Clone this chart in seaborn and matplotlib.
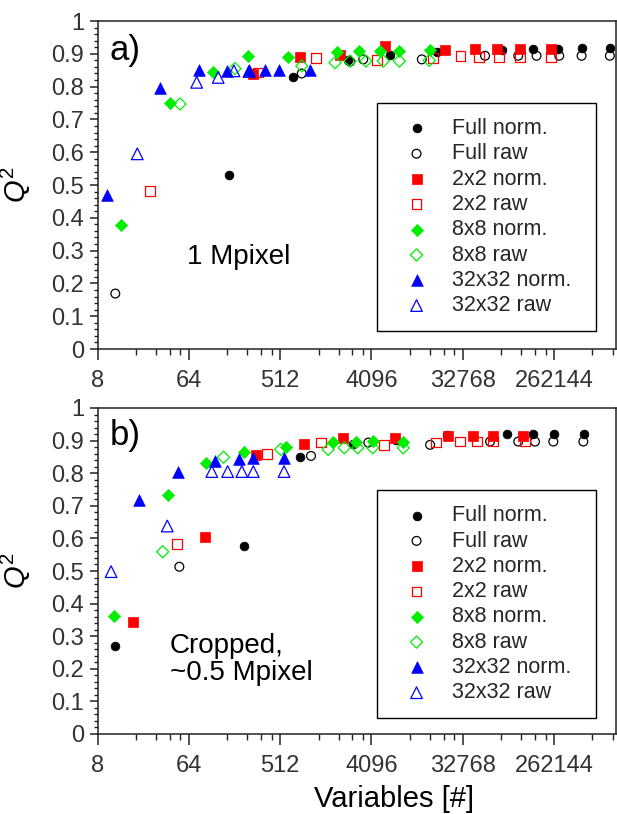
import matplotlib
matplotlib.use("Agg")
import matplotlib.pyplot as plt
import seaborn as sns
import pandas as pd
from matplotlib.ticker import FixedLocator, FixedFormatter, MultipleLocator, NullFormatter

# ---------------- data (panel a: 1 Mpixel) ----------------
a_full_norm_x = [160, 690, 2420, 6250, 18100, 79600, 163000, 288000, 491000, 935000]
a_full_norm_y = [0.532, 0.828, 0.880, 0.897, 0.907, 0.912, 0.914, 0.914, 0.919, 0.919]
a_full_raw_x = [12, 838, 2520, 3400, 12900, 54500, 116000, 176000, 295000, 491000, 935000]
a_full_raw_y = [0.169, 0.840, 0.876, 0.883, 0.883, 0.894, 0.894, 0.894, 0.894, 0.894, 0.894]
a_2x2_norm_x = [274, 806, 2000, 5590, 21900, 43300, 72100, 120000, 243000]
a_2x2_norm_y = [0.838, 0.891, 0.897, 0.924, 0.911, 0.914, 0.914, 0.914, 0.914]
a_2x2_raw_x = [26.4, 311, 1150, 4620, 16800, 31200, 47900, 75000, 120000, 243000]
a_2x2_raw_y = [0.481, 0.843, 0.886, 0.880, 0.888, 0.894, 0.891, 0.891, 0.891, 0.891]
a_8x8_norm_x = [13.7, 41.7, 112, 248, 617, 1880, 3110, 4980, 7730, 15600]
a_8x8_norm_y = [0.377, 0.749, 0.843, 0.894, 0.891, 0.906, 0.909, 0.909, 0.909, 0.911]
a_8x8_raw_x = [52.4, 183, 838, 1790, 2520, 3620, 5370, 7730, 15300]
a_8x8_raw_y = [0.747, 0.855, 0.863, 0.873, 0.878, 0.878, 0.878, 0.878, 0.880]
a_32_norm_x = [9.86, 33.2, 81.3, 154, 254, 363, 502, 1010]
a_32_norm_y = [0.468, 0.795, 0.850, 0.848, 0.851, 0.851, 0.851, 0.852]
a_32_raw_x = [19.8, 76.6, 125, 179, 252]
a_32_raw_y = [0.595, 0.813, 0.828, 0.848, 0.846]

# ---------------- data (panel b: cropped ~0.5 Mpixel) ----------------
b_full_norm_x = [11.9, 226, 806, 2710, 7170, 23000, 89300, 163000, 262000, 520000]
b_full_norm_y = [0.271, 0.578, 0.851, 0.891, 0.902, 0.917, 0.920, 0.920, 0.920, 0.920]
b_full_raw_x = [51.6, 1035, 3820, 15600, 61100, 116000, 170000, 258000, 511000]
b_full_raw_y = [0.513, 0.853, 0.894, 0.887, 0.897, 0.897, 0.897, 0.897, 0.897]
b_2x2_norm_x = [17.9, 92.6, 296, 883, 2160, 7020, 23700, 41800, 65600, 130000]
b_2x2_norm_y = [0.344, 0.603, 0.856, 0.891, 0.907, 0.907, 0.914, 0.914, 0.914, 0.914]
b_2x2_raw_x = [49.3, 377, 1290, 5450, 17800, 30800, 45100, 65600, 136000]
b_2x2_raw_y = [0.583, 0.859, 0.894, 0.887, 0.894, 0.897, 0.897, 0.897, 0.897]
b_8x8_norm_x = [11.7, 40.1, 94.5, 224, 585, 1720, 2880, 4270, 8460]
b_8x8_norm_y = [0.363, 0.733, 0.830, 0.866, 0.881, 0.895, 0.897, 0.899, 0.897]
b_8x8_raw_x = [35.3, 141, 518, 1530, 2210, 3000, 4220, 8460]
b_8x8_raw_y = [0.559, 0.849, 0.873, 0.873, 0.878, 0.878, 0.878, 0.878]
b_32_norm_x = [20.7, 50.5, 116, 202, 278, 560]
b_32_norm_y = [0.718, 0.805, 0.837, 0.843, 0.846, 0.846]
b_32_raw_x = [10.9, 39.2, 108, 155, 214, 278, 560]
b_32_raw_y = [0.498, 0.638, 0.805, 0.805, 0.805, 0.805, 0.805]

series_labels = ["Full norm.", "Full raw", "2x2 norm.", "2x2 raw",
                 "8x8 norm.", "8x8 raw", "32x32 norm.", "32x32 raw"]
xtick_values = [8, 64, 512, 4096, 32768, 262144]
xtick_labels = ["8", "64", "512", "4096", "32768", "262144"]
ytick_values = [0, 0.1, 0.2, 0.3, 0.4, 0.5, 0.6, 0.7, 0.8, 0.9, 1.0]
ytick_labels = ["0", "0.1", "0.2", "0.3", "0.4", "0.5", "0.6", "0.7", "0.8", "0.9", "1"]

panel_a = [(a_full_norm_x, a_full_norm_y), (a_full_raw_x, a_full_raw_y),
           (a_2x2_norm_x, a_2x2_norm_y), (a_2x2_raw_x, a_2x2_raw_y),
           (a_8x8_norm_x, a_8x8_norm_y), (a_8x8_raw_x, a_8x8_raw_y),
           (a_32_norm_x, a_32_norm_y), (a_32_raw_x, a_32_raw_y)]
panel_b = [(b_full_norm_x, b_full_norm_y), (b_full_raw_x, b_full_raw_y),
           (b_2x2_norm_x, b_2x2_norm_y), (b_2x2_raw_x, b_2x2_raw_y),
           (b_8x8_norm_x, b_8x8_norm_y), (b_8x8_raw_x, b_8x8_raw_y),
           (b_32_norm_x, b_32_norm_y), (b_32_raw_x, b_32_raw_y)]

# style per series: marker, colour, filled, size
styles = [("o", "#000000", True, 40), ("o", "#000000", False, 40),
          ("s", "#ff0000", True, 50), ("s", "#ff0000", False, 50),
          ("D", "#00ee00", True, 38), ("D", "#00ee00", False, 38),
          ("^", "#0000ff", True, 70), ("^", "#0000ff", False, 70)]

sns.set_theme(style="ticks")
plt.rcParams["font.family"] = ["Liberation Sans", "DejaVu Sans"]
plt.rcParams["mathtext.fontset"] = "custom"
plt.rcParams["mathtext.rm"] = "Liberation Sans"
plt.rcParams["mathtext.it"] = "Liberation Sans:italic"

W, H = 617, 814
fig = plt.figure(figsize=(W / 100, H / 100), dpi=100)
left, right = 97.5 / W, 615.5 / W
ax_a = fig.add_axes([left, 1 - 349 / H, right - left, (349 - 21) / H])
ax_b = fig.add_axes([left, 1 - 734 / H, right - left, (734 - 408) / H])

# minor tick positions: linear subdivisions (5) of each x8 interval
minor_x = []
for k in range(0, 8):
    lo = 8.0 ** k
    hi = lo * 8
    for i in range(1, 5):
        minor_x.append(lo + (hi - lo) * i / 5)


def draw(ax, data, tag, note, legend_box):
    for (xs, ys), lab, (m, c, filled, s) in zip(data, series_labels, styles):
        df = pd.DataFrame({"x": xs, "y": ys})
        if filled:
            sns.scatterplot(data=df, x="x", y="y", ax=ax, marker=m, s=s,
                            color=c, edgecolor=c, linewidth=0.5, label=lab)
        else:
            sns.scatterplot(data=df, x="x", y="y", ax=ax, marker=m, s=s,
                            facecolor="none", edgecolor=c, linewidth=0.9,
                            label=lab)
    ax.set_xscale("log", base=2)
    ax.set_xlim(8, 2 ** 20.02)
    ax.set_ylim(0, 1)
    ax.xaxis.set_major_locator(FixedLocator(xtick_values))
    ax.xaxis.set_major_formatter(FixedFormatter(xtick_labels))
    ax.xaxis.set_minor_locator(FixedLocator(minor_x))
    ax.xaxis.set_minor_formatter(NullFormatter())
    ax.yaxis.set_major_locator(FixedLocator(ytick_values))
    ax.yaxis.set_major_formatter(FixedFormatter(ytick_labels))
    ax.yaxis.set_minor_locator(MultipleLocator(0.02))
    ax.yaxis.set_minor_formatter(NullFormatter())
    ax.tick_params(axis="x", which="major", length=8, width=1.1, direction="out",
                   labelsize=17, pad=7, colors="#222222", labelcolor="#333333")
    ax.tick_params(axis="x", which="minor", length=4.3, width=1.0, direction="out",
                   colors="#222222")
    ax.tick_params(axis="y", which="major", length=5.5, width=1.1, direction="out",
                   labelsize=17, pad=4, colors="#222222", labelcolor="#333333")
    ax.tick_params(axis="y", which="minor", length=3, width=1.0, direction="out",
                   colors="#222222")
    for sp in ax.spines.values():
        sp.set_visible(True)
        sp.set_linewidth(1.1)
        sp.set_color("#222222")
    ax.set_xlabel("")
    ax.set_ylabel(r"$\mathit{Q}^2$", fontsize=21, color="black")
    ax.yaxis.set_label_coords(-0.125, 0.5)
    ax.text(0.024, tag[1], tag[0], transform=ax.transAxes, fontsize=25,
            ha="left", va="center", color="black")
    ax.text(note[1], note[2], note[0], transform=ax.transAxes, fontsize=20,
            ha="left", va="center", color="black", linespacing=1.05)
    leg = ax.legend(loc="upper left", bbox_to_anchor=legend_box, mode="expand",
                    fontsize=15.5, frameon=True, fancybox=False, framealpha=1,
                    edgecolor="black", borderpad=0.7, labelspacing=0.2,
                    handlelength=2.3, handletextpad=0.5, scatterpoints=1,
                    borderaxespad=0)
    leg.get_frame().set_linewidth(1.0)


draw(ax_a, panel_a, ("a)", 0.91), ("1 Mpixel", 0.173, 0.28),
     (0.539, 0.064, 0.424, 0.686))
draw(ax_b, panel_b, ("b)", 0.917), ("Cropped,\n~0.5 Mpixel", 0.14, 0.227),
     (0.539, 0.058, 0.423, 0.690))

ax_b.set_xlabel("Variables [#]", fontsize=21, color="black")
ax_b.xaxis.set_label_coords((394 - 97.5) / 518, -0.20)
ax_b.xaxis.label.set_va("center")

fig.savefig("out.png", dpi=100)
